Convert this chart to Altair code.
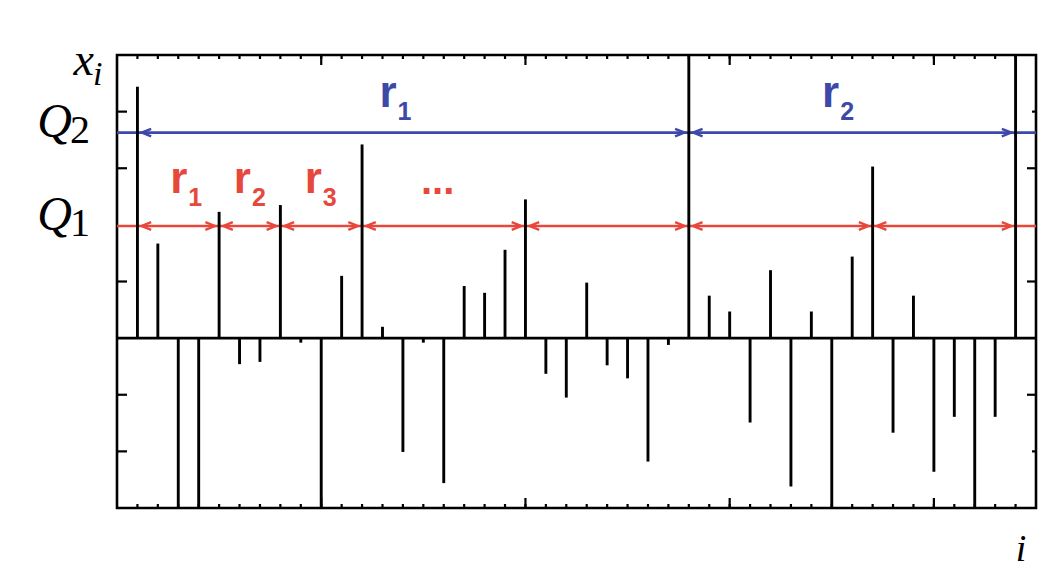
import altair as alt
import pandas as pd

# ---------------- data ----------------
idx = list(range(1, 45))
vals = [4.44, 1.67, -3.0, -3.0, 2.23, -0.46, -0.42, 2.35, -0.08, -3.0,
        1.10, 3.42, 0.20, -2.01, -0.08, -2.56, 0.92, 0.80, 1.56, 2.45,
        -0.63, -1.05, 0.98, -0.48, -0.71, -2.18, -0.12, 5.0, 0.75, 0.47,
        -1.49, 1.20, -2.62, 0.47, -3.0, 1.44, 3.03, -1.67, 0.75, -2.36,
        -1.39, -3.0, -1.39, 5.0]
Q1 = 1.98
Q2 = 3.63
blue_segments = [(1, 28), (28, 44)]
red_segments = [(1, 5), (5, 8), (8, 12), (12, 20), (20, 28), (28, 37), (37, 44)]
label_x = [3.44, 6.56, 10.03, 13.69, 35.36]
label_y = [2.56, 2.56, 2.56, 4.08, 4.08]
label_sub = ["1", "2", "3", "1", "2"]
label_kind = ["red", "red", "red", "blue", "blue"]
dots_x = [15.7]
dots_y = [2.54]
xticks_minor = list(range(1, 45))
xticks_major = [10, 20, 30, 40]
yticks = [-2, -1, 1, 3, 4]
yticks_right_long = [-1, 1, 3]
yticks_right_short = [-2, 4]

RED = "#e8473b"
BLUE = "#3d48a8"
W, H = 919, 453

xs = alt.Scale(domain=[0, 45], nice=False, zero=False)
ys = alt.Scale(domain=[-3, 5], nice=False, zero=False)

def X(f):
    return alt.X(f, type="quantitative", scale=xs, axis=None)

def Y(f):
    return alt.Y(f, type="quantitative", scale=ys, axis=None)

spikes = pd.DataFrame({"i": idx, "v": vals, "z": [0.0] * len(idx)})
spike_layer = alt.Chart(spikes).mark_rule(color="black", strokeWidth=2.9, strokeCap="butt").encode(
    x=X("i"), y=Y("z"), y2="v")

zero_layer = alt.Chart(pd.DataFrame({"z": [0.0]})).mark_rule(color="black", strokeWidth=2.6).encode(
    y=Y("z"), x=alt.value(0), x2=alt.value(W))

qdf = pd.DataFrame({"q": [Q2, Q1], "name": ["Q2", "Q1"], "c": [BLUE, RED]})
q_lines = alt.Chart(qdf).mark_rule(strokeWidth=2.6).encode(
    y=Y("q"), x=alt.value(0), x2=alt.value(W), color=alt.Color("c:N", scale=None))

def heads(segs, q, color):
    left = pd.DataFrame({"i": [a for a, b in segs], "q": [q] * len(segs)})
    right = pd.DataFrame({"i": [b for a, b in segs], "q": [q] * len(segs)})
    l = alt.Chart(left).mark_point(shape="M1,-0.8L-1,0L1,0.8", filled=False, color=color,
                                   strokeWidth=2.4, size=90, xOffset=9, opacity=1).encode(x=X("i"), y=Y("q"))
    r = alt.Chart(right).mark_point(shape="M-1,-0.8L1,0L-1,0.8", filled=False, color=color,
                                    strokeWidth=2.4, size=90, xOffset=-9, opacity=1).encode(x=X("i"), y=Y("q"))
    return l + r

blue_heads = heads(blue_segments, Q2, BLUE)
red_heads = heads(red_segments, Q1, RED)

ldf = pd.DataFrame({"x": label_x, "y": label_y, "sub": label_sub,
                    "c": [RED if k == "red" else BLUE for k in label_kind], "r": ["r"] * 5})
r_text = alt.Chart(ldf).mark_text(font="Liberation Sans", fontWeight="bold", fontSize=44,
                                  align="right", baseline="alphabetic").encode(
    x=X("x"), y=Y("y"), text="r:N", color=alt.Color("c:N", scale=None))
sub_text = alt.Chart(ldf).mark_text(font="Liberation Sans", fontWeight="bold", fontSize=25,
                                    align="left", baseline="alphabetic", dx=1, dy=13).encode(
    x=X("x"), y=Y("y"), text="sub:N", color=alt.Color("c:N", scale=None))
dots = alt.Chart(pd.DataFrame({"x": dots_x, "y": dots_y, "t": ["..."]})).mark_text(
    font="Liberation Sans", fontWeight="bold", fontSize=40, align="center", baseline="alphabetic",
    color=RED).encode(x=X("x"), y=Y("y"), text="t:N")

# ---- ticks (inward) ----
tb_minor = pd.DataFrame({"t": xticks_minor})
tb_major = pd.DataFrame({"t": xticks_major})
tick_style = dict(color="black", strokeWidth=2.2)
bot_minor = alt.Chart(tb_minor).mark_rule(**tick_style).encode(x=X("t"), y=alt.value(H), y2=alt.value(H - 4))
bot_major = alt.Chart(tb_major).mark_rule(**tick_style).encode(x=X("t"), y=alt.value(H), y2=alt.value(H - 10))
top_minor = alt.Chart(tb_minor).mark_rule(**tick_style).encode(x=X("t"), y=alt.value(0), y2=alt.value(4))
top_major = alt.Chart(tb_major).mark_rule(**tick_style).encode(x=X("t"), y=alt.value(0), y2=alt.value(10))
left_t = alt.Chart(pd.DataFrame({"t": yticks})).mark_rule(**tick_style).encode(
    y=Y("t"), x=alt.value(0), x2=alt.value(10))
right_long = alt.Chart(pd.DataFrame({"t": yticks_right_long})).mark_rule(**tick_style).encode(
    y=Y("t"), x=alt.value(W), x2=alt.value(W - 9))
right_short = alt.Chart(pd.DataFrame({"t": yticks_right_short})).mark_rule(**tick_style).encode(
    y=Y("t"), x=alt.value(W), x2=alt.value(W - 4))

# ---- math labels ----
SERIF = "Liberation Serif"
qlab = pd.DataFrame({"q": [Q2, Q1], "Q": ["Q", "Q"], "n": ["2", "1"]})
q_big = alt.Chart(qlab).mark_text(font=SERIF, fontStyle="italic", fontSize=48, align="right",
                                   baseline="alphabetic", dy=4, color="black").encode(
    y=Y("q"), x=alt.value(-45), text="Q:N")
q_sub = alt.Chart(qlab).mark_text(font=SERIF, fontSize=40, align="left",
                                   baseline="alphabetic", dy=10, color="black").encode(
    y=Y("q"), x=alt.value(-47), text="n:N")
xlab = alt.Chart(pd.DataFrame({"t": ["x"]})).mark_text(font=SERIF, fontStyle="italic", fontSize=46,
                                                      align="right", baseline="alphabetic", color="black").encode(
    x=alt.value(-23), y=alt.value(20), text="t:N")
ilab = alt.Chart(pd.DataFrame({"t": ["i"]})).mark_text(font=SERIF, fontStyle="italic", fontSize=34,
                                                      align="left", baseline="alphabetic", color="black").encode(
    x=alt.value(-24), y=alt.value(30), text="t:N")
ibot = alt.Chart(pd.DataFrame({"t": ["i"]})).mark_text(font=SERIF, fontStyle="italic", fontSize=38,
                                                      align="center", baseline="alphabetic", color="black").encode(
    x=alt.value(904), y=alt.value(506), text="t:N")

chart = alt.layer(
    q_lines, blue_heads, red_heads, zero_layer, spike_layer,
    bot_minor, bot_major, top_minor, top_major, left_t, right_long, right_short,
    r_text, sub_text, dots, q_big, q_sub, xlab, ilab, ibot,
).properties(
    width=W, height=H, autosize="none",
    padding={"left": 109, "top": 47, "right": 19, "bottom": 66},
    background="white",
).configure_view(stroke="black", strokeWidth=2.6)

chart.save("out.html", embed_options={"renderer": "svg", "actions": False})
